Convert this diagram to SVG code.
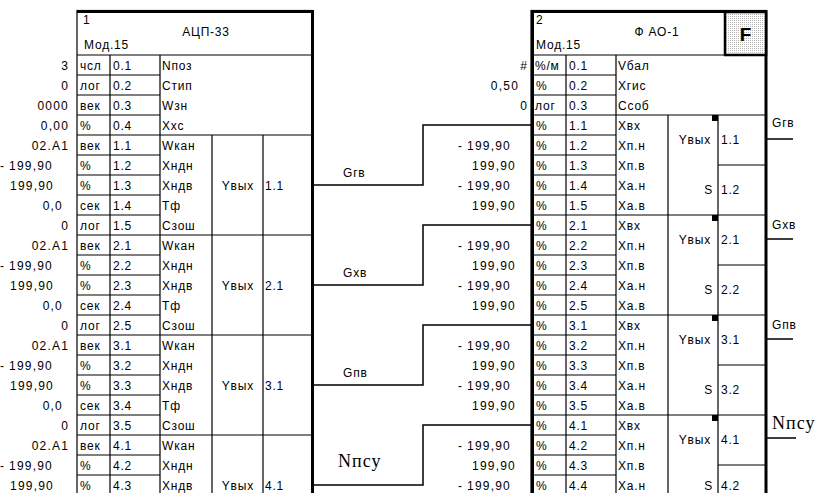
<svg xmlns="http://www.w3.org/2000/svg" width="822" height="493" viewBox="0 0 822 493">
<defs>
<pattern id="dots" width="2" height="2" patternUnits="userSpaceOnUse"><rect width="2" height="2" fill="#ffffff"/><rect width="1" height="1" fill="#b8b8b8"/></pattern>
<style>
text{font-family:"Liberation Sans",Arial,sans-serif;font-size:12px;fill:#000;letter-spacing:0.8px}
.v{text-anchor:end;letter-spacing:1.2px}
.m{text-anchor:middle}
.e{text-anchor:end}
.s{font-family:"Liberation Serif","Times New Roman",serif;font-size:18px;letter-spacing:1px}
.f{font-weight:bold;font-size:19px;text-anchor:middle;letter-spacing:0}
.ln{stroke:#000;stroke-width:1.2;fill:none}
.th{stroke:#000;stroke-width:3;fill:none}
.cn{stroke:#000;stroke-width:1.5;fill:none}
</style>
</defs>
<rect width="822" height="493" fill="#ffffff"/>

<g id="n1">
<rect x="77" y="10.5" width="235" height="500" fill="#ffffff" class="ln"/>
<path class="th" d="M77,11.5H313.5M312.5,10V493"/>
<path class="ln" d="M77,55H312M110,55V493M160,55V493M212,135V493M263,135V493"/>
<path class="ln" d="M77,75H160M77,95H160M77,115H160M77,135H312M77,155H160M77,175H160M77,195H160M77,215H160M77,235H312M77,255H160M77,275H160M77,295H160M77,315H160M77,335H312M77,355H160M77,375H160M77,395H160M77,415H160M77,435H312M77,455H160M77,475H160"/>
<text x="83" y="24">1</text>
<text x="206" y="36" class="m">АЦП-33</text>
<text x="84" y="49">Мод.15</text>
<text x="69" y="70" class="v">3</text><text x="80" y="70">чсл</text><text x="113" y="70">0.1</text><text x="162" y="70">Nпоз</text>
<text x="69" y="90" class="v">0</text><text x="80" y="90">лог</text><text x="113" y="90">0.2</text><text x="162" y="90">Стип</text>
<text x="69" y="110" class="v">0000</text><text x="80" y="110">век</text><text x="113" y="110">0.3</text><text x="162" y="110">Wзн</text>
<text x="69" y="130" class="v">0,00</text><text x="80" y="130">%</text><text x="113" y="130">0.4</text><text x="162" y="130">Xхс</text>

<text x="69" y="150" class="v">02.A1</text><text x="80" y="150">век</text><text x="113" y="150">1.1</text><text x="162" y="150">Wкан</text>
<text x="53" y="170" class="v">-<tspan dx="4">199,90</tspan></text><text x="80" y="170">%</text><text x="113" y="170">1.2</text><text x="162" y="170">Xндн</text>
<text x="54" y="190" class="v">199,90</text><text x="80" y="190">%</text><text x="113" y="190">1.3</text><text x="162" y="190">Xндв</text><text x="254" y="190" class="e">Yвых</text><text x="265" y="190">1.1</text>
<text x="63" y="210" class="v">0,0</text><text x="80" y="210">сек</text><text x="113" y="210">1.4</text><text x="162" y="210">Тф</text>
<text x="69" y="230" class="v">0</text><text x="80" y="230">лог</text><text x="113" y="230">1.5</text><text x="162" y="230">Сзош</text>

<text x="69" y="250" class="v">02.A1</text><text x="80" y="250">век</text><text x="113" y="250">2.1</text><text x="162" y="250">Wкан</text>
<text x="53" y="270" class="v">-<tspan dx="4">199,90</tspan></text><text x="80" y="270">%</text><text x="113" y="270">2.2</text><text x="162" y="270">Xндн</text>
<text x="54" y="290" class="v">199,90</text><text x="80" y="290">%</text><text x="113" y="290">2.3</text><text x="162" y="290">Xндв</text><text x="254" y="290" class="e">Yвых</text><text x="265" y="290">2.1</text>
<text x="63" y="310" class="v">0,0</text><text x="80" y="310">сек</text><text x="113" y="310">2.4</text><text x="162" y="310">Тф</text>
<text x="69" y="330" class="v">0</text><text x="80" y="330">лог</text><text x="113" y="330">2.5</text><text x="162" y="330">Сзош</text>

<text x="69" y="350" class="v">02.A1</text><text x="80" y="350">век</text><text x="113" y="350">3.1</text><text x="162" y="350">Wкан</text>
<text x="53" y="370" class="v">-<tspan dx="4">199,90</tspan></text><text x="80" y="370">%</text><text x="113" y="370">3.2</text><text x="162" y="370">Xндн</text>
<text x="54" y="390" class="v">199,90</text><text x="80" y="390">%</text><text x="113" y="390">3.3</text><text x="162" y="390">Xндв</text><text x="254" y="390" class="e">Yвых</text><text x="265" y="390">3.1</text>
<text x="63" y="410" class="v">0,0</text><text x="80" y="410">сек</text><text x="113" y="410">3.4</text><text x="162" y="410">Тф</text>
<text x="69" y="430" class="v">0</text><text x="80" y="430">лог</text><text x="113" y="430">3.5</text><text x="162" y="430">Сзош</text>

<text x="69" y="450" class="v">02.A1</text><text x="80" y="450">век</text><text x="113" y="450">4.1</text><text x="162" y="450">Wкан</text>
<text x="53" y="470" class="v">-<tspan dx="4">199,90</tspan></text><text x="80" y="470">%</text><text x="113" y="470">4.2</text><text x="162" y="470">Xндн</text>
<text x="54" y="490" class="v">199,90</text><text x="80" y="490">%</text><text x="113" y="490">4.3</text><text x="162" y="490">Xндв</text><text x="254" y="490" class="e">Yвых</text><text x="265" y="490">4.1</text>
</g>

<g id="n2">
<rect x="531" y="10.5" width="235" height="500" fill="#ffffff" class="ln"/>
<path class="th" d="M531,11.5H767.5M532.5,10V493M766,10V493"/>
<path class="ln" d="M531,55H766M566,55V493M616,55V493M668,115V493M718,115V493"/>
<path class="ln" d="M531,75H616M531,95H616M531,115H766M531,135H616M531,155H616M531,175H616M531,195H616M531,215H766M531,235H616M531,255H616M531,275H616M531,295H616M531,315H766M531,335H616M531,355H616M531,375H616M531,395H616M531,415H766M531,435H616M531,455H616M531,475H616M718,165H766M718,265H766M718,365H766M718,465H766"/>
<path d="M712,115h6v6h-6zM712,215h6v6h-6zM712,315h6v6h-6zM712,415h6v6h-6z" fill="#000"/>
<rect x="725" y="12" width="41" height="43" fill="url(#dots)" stroke="#000" stroke-width="2.5"/>
<text x="745.5" y="41" class="f">F</text>
<text x="536" y="24">2</text>
<text x="657" y="36" class="m">Ф АО-1</text>
<text x="536" y="49">Мод.15</text>
<text x="528" y="70" class="v">#</text><text x="535" y="70">%/м</text><text x="569" y="70">0.1</text><text x="618" y="70">Vбал</text>
<text x="519" y="90" class="v">0,50</text><text x="536" y="90">%</text><text x="569" y="90">0.2</text><text x="618" y="90">Xгис</text>
<text x="528" y="110" class="v">0</text><text x="535" y="110">лог</text><text x="569" y="110">0.3</text><text x="618" y="110">Ссоб</text>

<text x="536" y="130">%</text><text x="569" y="130">1.1</text><text x="618" y="130">Xвх</text>
<text x="511" y="150" class="v">-<tspan dx="4">199,90</tspan></text><text x="536" y="150">%</text><text x="569" y="150">1.2</text><text x="618" y="150">Xп.н</text>
<text x="516" y="170" class="v">199,90</text><text x="536" y="170">%</text><text x="569" y="170">1.3</text><text x="618" y="170">Xп.в</text>
<text x="511" y="190" class="v">-<tspan dx="4">199,90</tspan></text><text x="536" y="190">%</text><text x="569" y="190">1.4</text><text x="618" y="190">Xа.н</text>
<text x="516" y="210" class="v">199,90</text><text x="536" y="210">%</text><text x="569" y="210">1.5</text><text x="618" y="210">Xа.в</text>
<text x="711" y="144" class="e">Yвых</text><text x="721" y="144">1.1</text>
<text x="713" y="194" class="e">S</text><text x="721" y="194">1.2</text>

<text x="536" y="230">%</text><text x="569" y="230">2.1</text><text x="618" y="230">Xвх</text>
<text x="511" y="250" class="v">-<tspan dx="4">199,90</tspan></text><text x="536" y="250">%</text><text x="569" y="250">2.2</text><text x="618" y="250">Xп.н</text>
<text x="516" y="270" class="v">199,90</text><text x="536" y="270">%</text><text x="569" y="270">2.3</text><text x="618" y="270">Xп.в</text>
<text x="511" y="290" class="v">-<tspan dx="4">199,90</tspan></text><text x="536" y="290">%</text><text x="569" y="290">2.4</text><text x="618" y="290">Xа.н</text>
<text x="516" y="310" class="v">199,90</text><text x="536" y="310">%</text><text x="569" y="310">2.5</text><text x="618" y="310">Xа.в</text>
<text x="711" y="244" class="e">Yвых</text><text x="721" y="244">2.1</text>
<text x="713" y="294" class="e">S</text><text x="721" y="294">2.2</text>

<text x="536" y="330">%</text><text x="569" y="330">3.1</text><text x="618" y="330">Xвх</text>
<text x="511" y="350" class="v">-<tspan dx="4">199,90</tspan></text><text x="536" y="350">%</text><text x="569" y="350">3.2</text><text x="618" y="350">Xп.н</text>
<text x="516" y="370" class="v">199,90</text><text x="536" y="370">%</text><text x="569" y="370">3.3</text><text x="618" y="370">Xп.в</text>
<text x="511" y="390" class="v">-<tspan dx="4">199,90</tspan></text><text x="536" y="390">%</text><text x="569" y="390">3.4</text><text x="618" y="390">Xа.н</text>
<text x="516" y="410" class="v">199,90</text><text x="536" y="410">%</text><text x="569" y="410">3.5</text><text x="618" y="410">Xа.в</text>
<text x="711" y="344" class="e">Yвых</text><text x="721" y="344">3.1</text>
<text x="713" y="394" class="e">S</text><text x="721" y="394">3.2</text>

<text x="536" y="430">%</text><text x="569" y="430">4.1</text><text x="618" y="430">Xвх</text>
<text x="511" y="450" class="v">-<tspan dx="4">199,90</tspan></text><text x="536" y="450">%</text><text x="569" y="450">4.2</text><text x="618" y="450">Xп.н</text>
<text x="516" y="470" class="v">199,90</text><text x="536" y="470">%</text><text x="569" y="470">4.3</text><text x="618" y="470">Xп.в</text>
<text x="511" y="490" class="v">-<tspan dx="4">199,90</tspan></text><text x="536" y="490">%</text><text x="569" y="490">4.4</text><text x="618" y="490">Xа.н</text>
<text x="711" y="444" class="e">Yвых</text><text x="721" y="444">4.1</text>
<text x="713" y="490" class="e">S</text><text x="721" y="490">4.2</text>
</g>

<g id="connectors">
<path class="cn" d="M314,185H423V125H531M314,285H423V225H531M314,385H423V325H531M314,485H423V425H531"/>
<path class="cn" d="M767,139H793M767,239H793M767,339H793M767,438H796"/>
<text x="343" y="177">Gгв</text>
<text x="343" y="277">Gхв</text>
<text x="343" y="377">Gпв</text>
<text x="338" y="467" class="s">Nпсу</text>
<text x="772" y="127">Gгв</text>
<text x="772" y="229">Gхв</text>
<text x="772" y="329">Gпв</text>
<text x="772" y="429" class="s">Nпсу</text>
</g>
</svg>
